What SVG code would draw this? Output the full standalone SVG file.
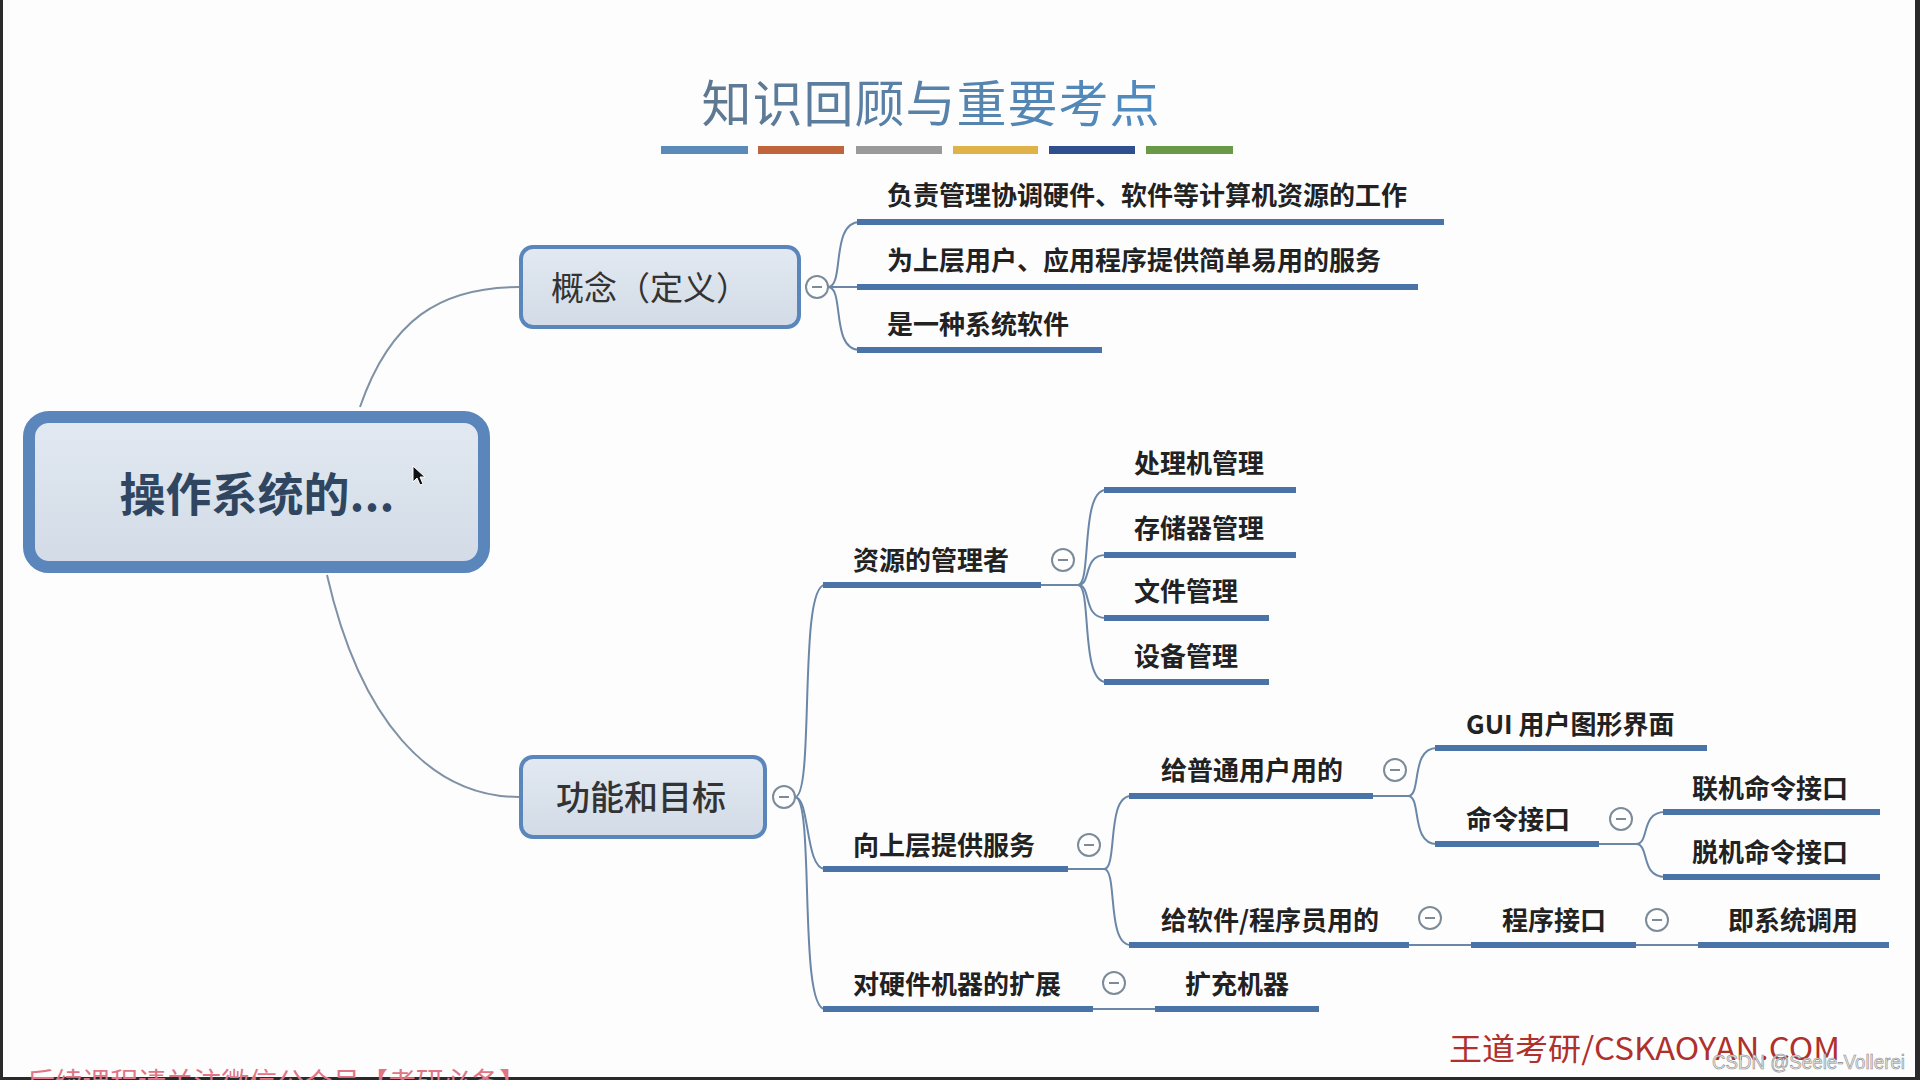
<svg xmlns="http://www.w3.org/2000/svg" width="1920" height="1080" viewBox="0 0 1920 1080">
<defs>
<linearGradient id="tg" x1="0" y1="0" x2="1" y2="0">
<stop offset="0" stop-color="#5f7891"/>
<stop offset="1" stop-color="#4f8cc2"/>
</linearGradient>
<linearGradient id="nf" x1="0" y1="0" x2="0" y2="1">
<stop offset="0" stop-color="#e2e9f2"/>
<stop offset="1" stop-color="#d2dbe6"/>
</linearGradient>
<style>
.cj{font-family:"Noto Sans CJK SC","Noto Sans",sans-serif}
.ch{font-size:26px;font-weight:700;fill:#222}
.ul{stroke:#4a73a7;stroke-width:6;fill:none}
.cn{stroke:#7f91a4;stroke-width:2;fill:none}
.tr{stroke:#6b87a8;stroke-width:2;fill:none}
.cc circle{fill:#fff;stroke:#7c8b9a;stroke-width:2}
.cc line{stroke:#7c8b9a;stroke-width:2}
.nd{fill:url(#nf);stroke:#5a86bb}
</style>
</defs>
<rect x="0" y="0" width="1920" height="1080" fill="#fdfdfe"/>
<rect x="0" y="0" width="3" height="1080" fill="#2a2a2a"/>
<rect x="1915" y="0" width="5" height="1080" fill="#2a2a2a"/>
<rect x="0" y="1077" width="1920" height="3" fill="#2a2a2a"/>

<g id="title">
<text class="cj" x="931" y="122" text-anchor="middle" font-size="50" font-weight="400" fill="url(#tg)" letter-spacing="1">知识回顾与重要考点</text>
<rect x="661" y="146" width="87" height="8" fill="#5b8ab8"/>
<rect x="758" y="146" width="86" height="8" fill="#c0643c"/>
<rect x="856" y="146" width="86" height="8" fill="#9a9a9a"/>
<rect x="953" y="146" width="85" height="8" fill="#e0b24a"/>
<rect x="1049" y="146" width="86" height="8" fill="#2f4f8f"/>
<rect x="1146" y="146" width="87" height="8" fill="#6a9a48"/>
</g>

<g id="connectors">
<path class="cn" d="M360,407 C390,320 440,287 519,287"/>
<path class="cn" d="M327,575 C360,720 430,797 519,797"/>
<path class="tr" d="M828,287 C845,287 830,222 860,222"/>
<path class="tr" d="M828,287 L860,287"/>
<path class="tr" d="M828,287 C845,287 830,350 860,350"/>
<path class="tr" d="M795,797 C815,797 798,585 825,585"/>
<path class="tr" d="M795,797 C810,797 805,869 825,869"/>
<path class="tr" d="M795,797 C815,797 798,1009 825,1009"/>
<path class="tr" d="M1041,585 L1078,585"/>
<path class="tr" d="M1078,585 C1092,585 1080,490 1106,490"/>
<path class="tr" d="M1078,585 C1092,585 1082,555 1106,555"/>
<path class="tr" d="M1078,585 C1092,585 1082,618 1106,618"/>
<path class="tr" d="M1078,585 C1092,585 1080,682 1106,682"/>
<path class="tr" d="M1068,869 L1104,869"/>
<path class="tr" d="M1104,869 C1118,869 1106,796 1131,796"/>
<path class="tr" d="M1104,869 C1118,869 1106,945 1131,945"/>
<path class="tr" d="M1373,796 L1408,796"/>
<path class="tr" d="M1408,796 C1422,796 1410,748 1437,748"/>
<path class="tr" d="M1408,796 C1422,796 1410,844 1437,844"/>
<path class="tr" d="M1599,844 L1636,844"/>
<path class="tr" d="M1636,844 C1650,844 1640,812 1665,812"/>
<path class="tr" d="M1636,844 C1650,844 1640,877 1665,877"/>
<path class="tr" d="M1409,945 L1471,945"/>
<path class="tr" d="M1636,945 L1698,945"/>
<path class="tr" d="M1093,1009 L1155,1009"/>
</g>

<g id="root">
<rect class="nd" x="29" y="417" width="455" height="150" rx="20" stroke-width="12"/>
<text class="cj" x="257" y="511" text-anchor="middle" font-size="46" font-weight="700" fill="#2f4560">操作系统的...</text>
<path d="M413,466 L413,482 L417,478 L420,485 L423,484 L420,477 L425,477 Z" fill="#111" stroke="#fff" stroke-width="1"/>
</g>

<g id="concept">
<rect class="nd" x="521" y="247" width="278" height="80" rx="12" stroke-width="4"/>
<text class="cj" x="650" y="300" text-anchor="middle" font-size="33" font-weight="400" fill="#333">概念（定义）</text>
<g class="cc"><circle cx="817" cy="287" r="11"/><line x1="812" y1="287" x2="822" y2="287"/></g>
</g>

<g id="function">
<rect class="nd" x="521" y="757" width="244" height="80" rx="12" stroke-width="4"/>
<text class="cj" x="641" y="810" text-anchor="middle" font-size="34" font-weight="500" fill="#333">功能和目标</text>
<g class="cc"><circle cx="784" cy="797" r="11"/><line x1="779" y1="797" x2="789" y2="797"/></g>
</g>

<g id="c1"><line class="ul" x1="857" y1="222" x2="1444" y2="222"/><text class="cj ch" x="887" y="205">负责管理协调硬件、软件等计算机资源的工作</text></g>
<g id="c2"><line class="ul" x1="857" y1="287" x2="1418" y2="287"/><text class="cj ch" x="887" y="270">为上层用户、应用程序提供简单易用的服务</text></g>
<g id="c3"><line class="ul" x1="857" y1="350" x2="1102" y2="350"/><text class="cj ch" x="887" y="334">是一种系统软件</text></g>

<g id="res"><line class="ul" x1="823" y1="585" x2="1041" y2="585"/><text class="cj ch" x="853" y="570">资源的管理者</text>
<g class="cc"><circle cx="1063" cy="560" r="11"/><line x1="1058" y1="560" x2="1068" y2="560"/></g></g>
<g id="r1"><line class="ul" x1="1104" y1="490" x2="1296" y2="490"/><text class="cj ch" x="1134" y="473">处理机管理</text></g>
<g id="r2"><line class="ul" x1="1104" y1="555" x2="1296" y2="555"/><text class="cj ch" x="1134" y="538">存储器管理</text></g>
<g id="r3"><line class="ul" x1="1104" y1="618" x2="1269" y2="618"/><text class="cj ch" x="1134" y="601">文件管理</text></g>
<g id="r4"><line class="ul" x1="1104" y1="682" x2="1269" y2="682"/><text class="cj ch" x="1134" y="666">设备管理</text></g>

<g id="svc"><line class="ul" x1="823" y1="869" x2="1068" y2="869"/><text class="cj ch" x="853" y="855">向上层提供服务</text>
<g class="cc"><circle cx="1089" cy="845" r="11"/><line x1="1084" y1="845" x2="1094" y2="845"/></g></g>
<g id="user"><line class="ul" x1="1129" y1="796" x2="1373" y2="796"/><text class="cj ch" x="1161" y="780">给普通用户用的</text>
<g class="cc"><circle cx="1395" cy="770" r="11"/><line x1="1390" y1="770" x2="1400" y2="770"/></g></g>
<g id="gui"><line class="ul" x1="1435" y1="748" x2="1707" y2="748"/><text class="cj ch" x="1466" y="734" font-weight="500">GUI 用户图形界面</text></g>
<g id="cmd"><line class="ul" x1="1435" y1="844" x2="1599" y2="844"/><text class="cj ch" x="1466" y="829">命令接口</text>
<g class="cc"><circle cx="1621" cy="819" r="11"/><line x1="1616" y1="819" x2="1626" y2="819"/></g></g>
<g id="online"><line class="ul" x1="1663" y1="812" x2="1880" y2="812"/><text class="cj ch" x="1692" y="798">联机命令接口</text></g>
<g id="offline"><line class="ul" x1="1663" y1="877" x2="1880" y2="877"/><text class="cj ch" x="1692" y="862">脱机命令接口</text></g>
<g id="prog"><line class="ul" x1="1129" y1="945" x2="1409" y2="945"/><text class="cj ch" x="1161" y="930">给软件/程序员用的</text>
<g class="cc"><circle cx="1430" cy="918" r="11"/><line x1="1425" y1="918" x2="1435" y2="918"/></g></g>
<g id="api"><line class="ul" x1="1471" y1="945" x2="1636" y2="945"/><text class="cj ch" x="1502" y="930">程序接口</text>
<g class="cc"><circle cx="1657" cy="920" r="11"/><line x1="1652" y1="920" x2="1662" y2="920"/></g></g>
<g id="syscall"><line class="ul" x1="1698" y1="945" x2="1889" y2="945"/><text class="cj ch" x="1728" y="930">即系统调用</text></g>

<g id="hw"><line class="ul" x1="823" y1="1009" x2="1093" y2="1009"/><text class="cj ch" x="853" y="994">对硬件机器的扩展</text>
<g class="cc"><circle cx="1114" cy="983" r="11"/><line x1="1109" y1="983" x2="1119" y2="983"/></g></g>
<g id="ext"><line class="ul" x1="1155" y1="1009" x2="1319" y2="1009"/><text class="cj ch" x="1185" y="994">扩充机器</text></g>

<text class="cj" x="1449" y="1060" font-size="31" fill="#b0302c" textLength="391" lengthAdjust="spacingAndGlyphs">王道考研/CSKAOYAN.COM</text>
<text x="1712" y="1069" font-family="Liberation Sans, sans-serif" font-size="20" fill="#e8e8e8" stroke="#8a8a8a" stroke-width="0.6" textLength="193" lengthAdjust="spacingAndGlyphs">CSDN @Seele-Vollerei</text>
<text class="cj" x="27" y="1093" font-size="28" fill="#e07585" textLength="500">后续课程请关注微信公众号【考研必备】</text>
</svg>
